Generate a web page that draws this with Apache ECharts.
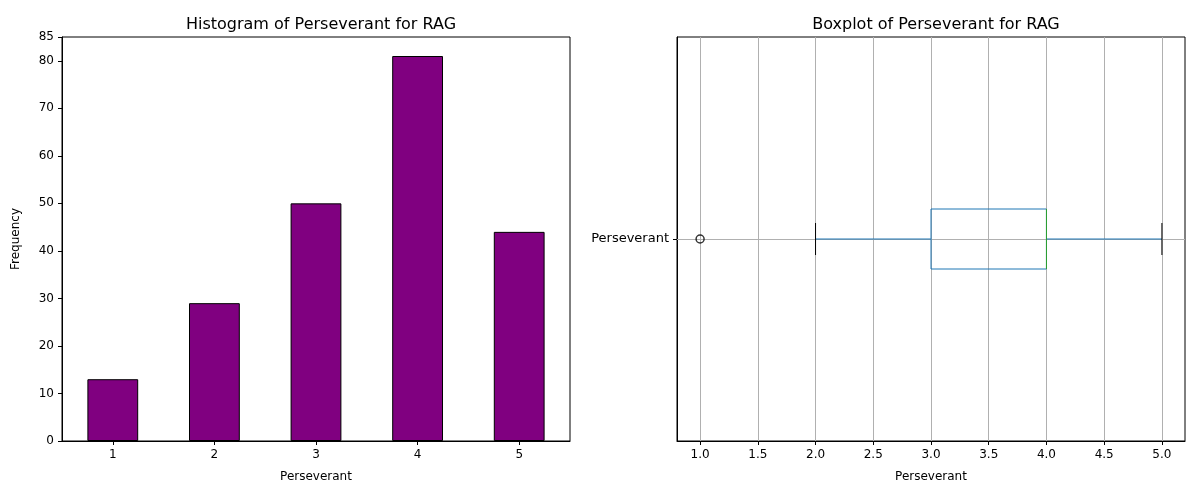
<!DOCTYPE html>
<html>
<head>
<meta charset="utf-8">
<script src="https://cdn.jsdelivr.net/npm/echarts@6/dist/echarts.min.js"></script>
<style>html,body{margin:0;padding:0;background:#fff}#chart{width:1200px;height:500px}</style>
</head>
<body>
<div id="chart"></div>
<script>
// histogram
const categories = ['1', '2', '3', '4', '5'];
const frequencies = [13, 29, 50, 81, 44];
// boxplot: [lowWhisker, q1, median, q3, highWhisker]
const boxStats = [2, 3, 4, 4, 5];
const outliers = [1];
const boxTicks = [1.0, 1.5, 2.0, 2.5, 3.0, 3.5, 4.0, 4.5, 5.0];

const chart = echarts.init(document.getElementById('chart'));
const font = 'DejaVu Sans';
const axisLine = {show: true, lineStyle: {color: '#000', width: 1}};
const axisTick = {show: true, length: 4, lineStyle: {color: '#000'}};
const axisLabel = {color: '#000', fontSize: 12, fontFamily: font};

chart.setOption({
    animation: false,
    title: [
        {text: 'Histogram of Perseverant for RAG', left: 316, top: 12, textAlign: 'center',
            textStyle: {fontSize: 16, fontWeight: 'normal', color: '#000', fontFamily: font}},
        {text: 'Boxplot of Perseverant for RAG', left: 931, top: 12, textAlign: 'center',
            textStyle: {fontSize: 16, fontWeight: 'normal', color: '#000', fontFamily: font}}
    ],
    grid: [
        {left: 62, top: 37, width: 508, height: 404, show: true, borderColor: '#000', borderWidth: 1},
        {left: 677, top: 37, width: 508, height: 404, show: true, borderColor: '#000', borderWidth: 1}
    ],
    xAxis: [
        {gridIndex: 0, type: 'category', data: categories, axisLine, axisTick: {...axisTick, alignWithLabel: true},
            axisLabel, name: 'Perseverant', nameLocation: 'middle', nameGap: 30,
            nameTextStyle: {fontSize: 12, color: '#000', fontFamily: font}},
        {gridIndex: 1, type: 'value', min: 0.8, max: 5.2, axisLine,
            axisTick: {...axisTick, customValues: boxTicks},
            axisLabel: {...axisLabel, customValues: boxTicks, formatter: v => v.toFixed(1)},
            splitLine: {show: false},
            name: 'Perseverant', nameLocation: 'middle', nameGap: 30,
            nameTextStyle: {fontSize: 12, color: '#000', fontFamily: font}}
    ],
    yAxis: [
        {gridIndex: 0, type: 'value', min: 0, max: 85, interval: 10, axisLine, axisTick, axisLabel,
            splitLine: {show: false}, name: 'Frequency', nameLocation: 'middle', nameGap: 40,
            nameTextStyle: {fontSize: 12, color: '#000', fontFamily: font}},
        {gridIndex: 1, type: 'category', data: ['Perseverant'], axisLine, axisTick: {...axisTick, alignWithLabel: true},
            axisLabel: {...axisLabel, fontSize: 13}, splitLine: {show: false}}
    ],
    series: [
        {type: 'bar', xAxisIndex: 0, yAxisIndex: 0, data: frequencies, barWidth: '50%',
            itemStyle: {color: '#800080', borderColor: '#000', borderWidth: 1}},
        {type: 'custom', xAxisIndex: 1, yAxisIndex: 1, data: [[0].concat(boxStats)],
            encode: {x: [1, 2, 3, 4, 5], y: 0},
            renderItem: function (params, api) {
                const lo = api.coord([api.value(1), 0]);
                const q1 = api.coord([api.value(2), 0]);
                const md = api.coord([api.value(3), 0]);
                const q3 = api.coord([api.value(4), 0]);
                const hi = api.coord([api.value(5), 0]);
                const cy = lo[1];
                const h = 30, c = 16;
                const blue = '#1f77b4';
                return {type: 'group', children: [
                    {type: 'line', shape: {x1: lo[0], y1: cy, x2: q1[0], y2: cy}, style: {stroke: blue, lineWidth: 1}},
                    {type: 'line', shape: {x1: q3[0], y1: cy, x2: hi[0], y2: cy}, style: {stroke: blue, lineWidth: 1}},
                    {type: 'rect', shape: {x: q1[0], y: cy - h, width: q3[0] - q1[0], height: 2 * h},
                        style: {fill: 'none', stroke: blue, lineWidth: 1}},
                    {type: 'line', shape: {x1: md[0], y1: cy - h, x2: md[0], y2: cy + h}, style: {stroke: '#2ca02c', lineWidth: 1}},
                    {type: 'line', shape: {x1: lo[0], y1: cy - c, x2: lo[0], y2: cy + c}, style: {stroke: '#000', lineWidth: 1}},
                    {type: 'line', shape: {x1: hi[0], y1: cy - c, x2: hi[0], y2: cy + c}, style: {stroke: '#000', lineWidth: 1}}
                ]};
            },
            z: 5,
            markLine: {silent: true, symbol: 'none', label: {show: false}, z: 1,
                lineStyle: {color: '#b0b0b0', type: 'solid', width: 1},
                data: boxTicks.map(v => ({xAxis: v})).concat([{yAxis: 'Perseverant'}])}
        },
        {type: 'scatter', xAxisIndex: 1, yAxisIndex: 1, data: outliers.map(v => [v, 'Perseverant']),
            symbol: 'circle', symbolSize: 8, z: 6,
            itemStyle: {color: 'none', borderColor: '#000', borderWidth: 1.5}}
    ]
});
</script>
</body>
</html>
